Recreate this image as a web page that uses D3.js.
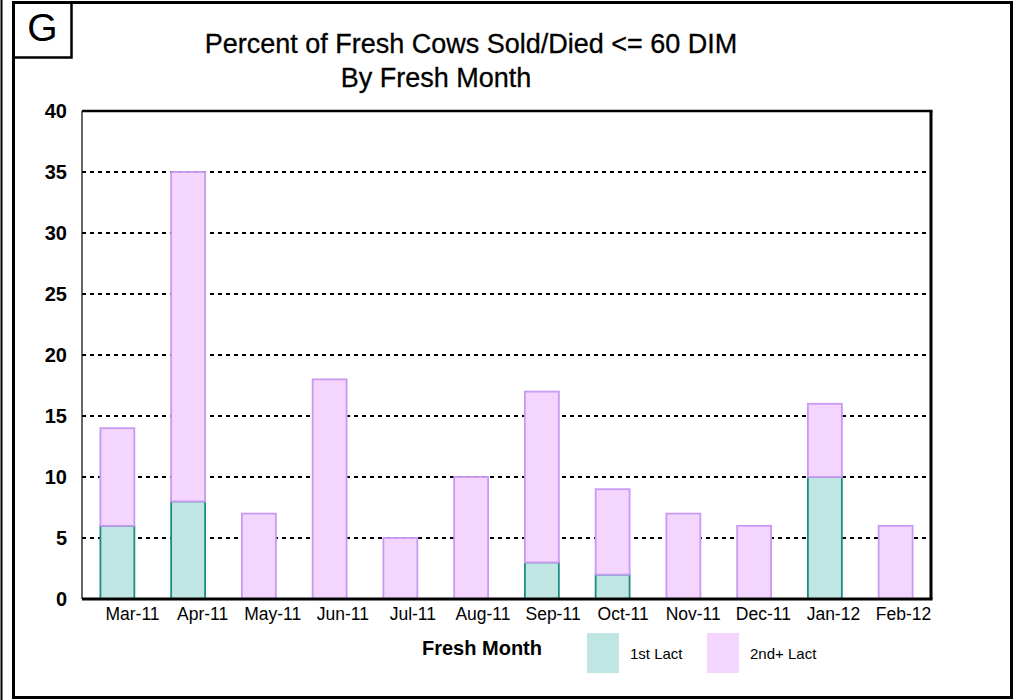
<!DOCTYPE html>
<html>
<head>
<meta charset="utf-8">
<script src="https://cdn.jsdelivr.net/npm/d3@7"></script>
<style>
  body { margin: 0; background: #fff; }
  svg text { font-family: "Liberation Sans", Arial, sans-serif; fill: #000; }
</style>
</head>
<body>
<script>
// chart data
var months = ["Mar-11","Apr-11","May-11","Jun-11","Jul-11","Aug-11","Sep-11","Oct-11","Nov-11","Dec-11","Jan-12","Feb-12"];
var firstLact = [6, 8, 0, 0, 0, 0, 3, 2, 0, 0, 10, 0];
var secondLact = [8, 27, 7, 18, 5, 10, 14, 7, 7, 6, 6, 6];
var yTicks = [0, 5, 10, 15, 20, 25, 30, 35, 40];
var seriesNames = ["1st Lact", "2nd+ Lact"];

var W = 1015, H = 700;
var plot = {left: 82, top: 111, right: 931, bottom: 599};

var svg = d3.select("body").append("svg")
  .attr("width", W)
  .attr("height", H);

// outer frame
svg.append("line")
  .attr("x1", 1.5).attr("x2", 1.5).attr("y1", 0).attr("y2", H)
  .attr("stroke", "#000").attr("stroke-width", 2);
svg.append("rect")
  .attr("x", 13.5).attr("y", 2.5).attr("width", 998).attr("height", 695)
  .attr("fill", "none").attr("stroke", "#000").attr("stroke-width", 3);

// G box
svg.append("rect")
  .attr("x", 13.5).attr("y", 2.5).attr("width", 58).attr("height", 55)
  .attr("fill", "none").attr("stroke", "#000").attr("stroke-width", 2.5);
svg.append("text")
  .attr("x", 42.5).attr("y", 41)
  .attr("text-anchor", "middle")
  .style("font-size", "39px")
  .text("G");

// title
svg.append("text")
  .attr("x", 471).attr("y", 53)
  .attr("text-anchor", "middle")
  .style("font-size", "27px")
  .style("stroke", "#000").style("stroke-width", 0.3)
  .text("Percent of Fresh Cows Sold/Died <= 60 DIM");
svg.append("text")
  .attr("x", 436).attr("y", 87)
  .attr("text-anchor", "middle")
  .style("font-size", "27px")
  .style("stroke", "#000").style("stroke-width", 0.3)
  .text("By Fresh Month");

var x = d3.scaleBand()
  .domain(months)
  .range([plot.left, plot.right])
  .paddingInner(0.52)
  .paddingOuter(0.26);

var xLab = d3.scalePoint()
  .domain(months)
  .range([132, 903]);

var y = d3.scaleLinear()
  .domain([0, 40])
  .range([plot.bottom, plot.top]);

// gridlines
svg.append("g")
  .selectAll("line")
  .data(yTicks.filter(function(d) { return d > 0 && d < 40; }))
  .enter().append("line")
  .attr("x1", plot.left).attr("x2", plot.right)
  .attr("y1", function(d) { return y(d); })
  .attr("y2", function(d) { return y(d); })
  .attr("stroke", "#000")
  .attr("stroke-width", 2)
  .attr("stroke-dasharray", "4,4");

// stacked bars
var rows = months.map(function(m, i) {
  return {month: m, a: firstLact[i], b: secondLact[i]};
});
var stack = d3.stack().keys(["a", "b"])(rows);
var fills = ["#bfe6e3", "#f3d5fe"];
var strokes = ["#1f8c84", "#c99af2"];

svg.append("g")
  .selectAll("g")
  .data(stack)
  .enter().append("g")
  .attr("fill", function(d, i) { return fills[i]; })
  .attr("stroke", function(d, i) { return strokes[i]; })
  .attr("stroke-width", 1.8)
  .selectAll("rect")
  .data(function(d) { return d.filter(function(p) { return p[1] > p[0]; }); })
  .enter().append("rect")
  .attr("x", function(d) { return x(d.data.month); })
  .attr("width", x.bandwidth())
  .attr("y", function(d) { return y(d[1]); })
  .attr("height", function(d) { return y(d[0]) - y(d[1]); });

// plot border
svg.append("line")
  .attr("x1", plot.left).attr("x2", plot.left).attr("y1", plot.top).attr("y2", plot.bottom)
  .attr("stroke", "#000").attr("stroke-width", 1.2);
svg.append("line")
  .attr("x1", plot.left).attr("x2", plot.right + 1.5).attr("y1", plot.top).attr("y2", plot.top)
  .attr("stroke", "#000").attr("stroke-width", 2.5);
svg.append("line")
  .attr("x1", plot.right).attr("x2", plot.right).attr("y1", plot.top).attr("y2", plot.bottom)
  .attr("stroke", "#000").attr("stroke-width", 3);
svg.append("line")
  .attr("x1", plot.left).attr("x2", plot.right + 1.5).attr("y1", plot.bottom).attr("y2", plot.bottom)
  .attr("stroke", "#000").attr("stroke-width", 3);

// y axis labels
var yAxis = d3.axisLeft(y).tickValues(yTicks).tickSize(0).tickPadding(15);
var yg = svg.append("g")
  .attr("transform", "translate(" + plot.left + ",0)")
  .call(yAxis);
yg.select(".domain").remove();
yg.selectAll("text")
  .style("font-size", "20px")
  .style("font-weight", "bold");

// x axis labels
var xAxis = d3.axisBottom(xLab).tickSize(0).tickPadding(9);
var xg = svg.append("g")
  .attr("transform", "translate(0," + plot.bottom + ")")
  .call(xAxis);
xg.select(".domain").remove();
xg.selectAll("text")
  .style("font-size", "17.5px");

// axis title
svg.append("text")
  .attr("x", 482).attr("y", 655)
  .attr("text-anchor", "middle")
  .style("font-size", "20px")
  .style("font-weight", "bold")
  .text("Fresh Month");

// legend
var legend = svg.append("g").selectAll("g")
  .data(seriesNames)
  .enter().append("g")
  .attr("transform", function(d, i) { return "translate(" + (587 + i * 120) + ",633)"; });
legend.append("rect")
  .attr("width", 32).attr("height", 40)
  .attr("fill", function(d, i) { return fills[i]; });
legend.append("text")
  .attr("x", 43).attr("y", 26)
  .style("font-size", "15px")
  .text(function(d) { return d; });
</script>
</body>
</html>
